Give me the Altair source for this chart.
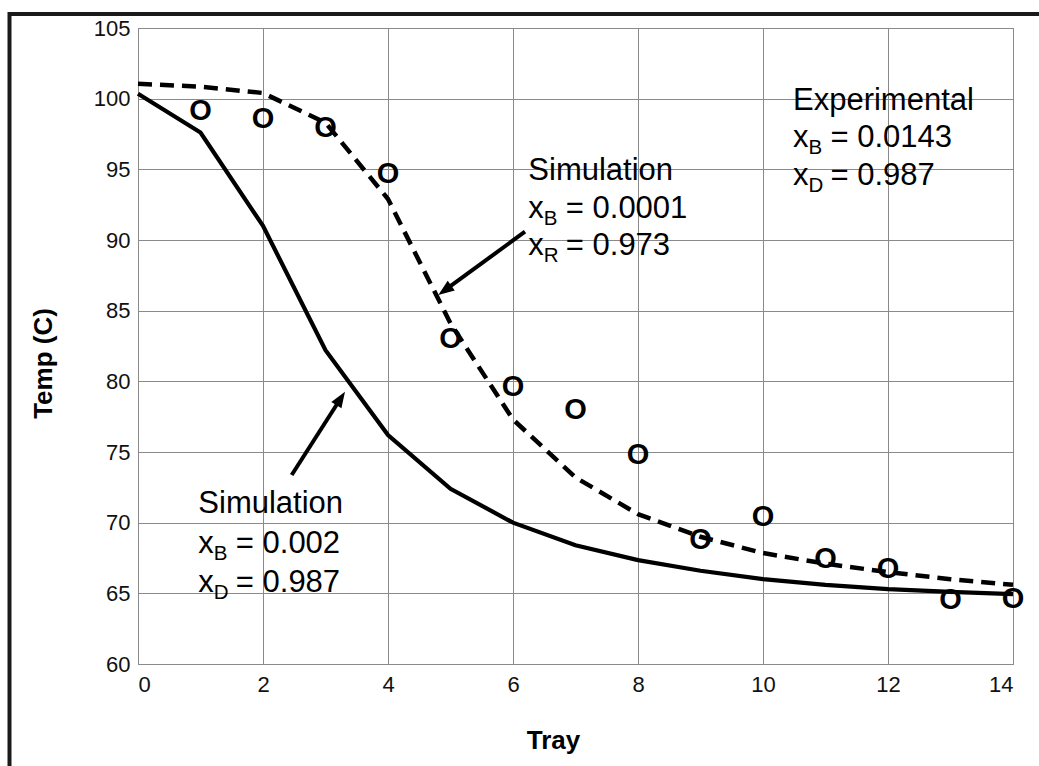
import math
import altair as alt
import pandas as pd

# ---- data -------------------------------------------------------------
trays = list(range(15))
sim_solid = [100.35, 97.6, 91.0, 82.2, 76.2, 72.4, 70.0, 68.4, 67.35, 66.6,
             66.0, 65.6, 65.3, 65.1, 64.95]          # x_B = 0.002, x_D = 0.987
sim_dashed = [101.05, 100.85, 100.4, 98.3, 92.9, 84.1, 77.3, 73.2, 70.6, 69.0,
              67.85, 67.1, 66.5, 66.0, 65.6]         # x_B = 0.0001, x_R = 0.973

exp_trays = list(range(1, 15))
exp_temps = [99.2, 98.7, 98.0, 94.8, 83.1, 79.7, 78.05, 74.9, 68.9, 70.5,
             67.55, 66.8, 64.6, 64.7]

x_ticks = [0, 2, 4, 6, 8, 10, 12, 14]
y_ticks = [60, 65, 70, 75, 80, 85, 90, 95, 100, 105]

# annotation blocks: anchor tray, baselines (temp) of the three lines
note_x = [10.48, 6.245, 0.965]
note_title = ["Experimental", "Simulation", "Simulation"]
note_y1 = [99.2, 94.245, 70.68]
note_y2 = [96.58, 91.53, 67.85]
note_y3 = [93.89, 88.94, 65.11]
note_sub2 = ["B", "B", "B"]
note_sub3 = ["D", "R", "D"]
note_val2 = ["= 0.0143", "= 0.0001", "= 0.002"]
note_val3 = ["= 0.987", "= 0.973", "= 0.987"]

# arrows: start (tray, temp) -> tip (tray, temp)
arrow_x0 = [6.192, 2.459]
arrow_y0 = [90.59, 73.37]
arrow_x1 = [4.805, 3.312]
arrow_y1 = [86.11, 79.27]

# ---- layout -----------------------------------------------------------
W, H = 875, 636
FONT = "Liberation Sans"
px_x = W / 14.0
px_y = H / 45.0

xs = alt.Scale(domain=[0, 14], nice=False, zero=False)
ys = alt.Scale(domain=[60, 105], nice=False, zero=False)

lines = pd.DataFrame({
    "tray": trays + trays,
    "temp": sim_solid + sim_dashed,
    "run": ["solid"] * len(trays) + ["dashed"] * len(trays),
})

base_x = alt.X("tray:Q", scale=xs,
               axis=alt.Axis(values=x_ticks, format="d", title="Tray", titleX=415, titleY=84,
                             titleBaseline="alphabetic", labelPadding=10,
                             titleFontSize=26, titleFontWeight="bold"))
base_y = alt.Y("temp:Q", scale=ys,
               axis=alt.Axis(values=y_ticks, format="d", title="Temp (C)", titleX=-95, titleY=335,
                             titleAngle=-90, titleAlign="center", titleBaseline="middle",
                             labelPadding=8, titleFontSize=26, titleFontWeight="bold"))

solid = alt.Chart(lines[lines.run == "solid"]).mark_line(
    color="black", strokeWidth=4.2).encode(x=base_x, y=base_y)

dashed = alt.Chart(lines[lines.run == "dashed"]).mark_line(
    color="black", strokeWidth=4.5, strokeDash=[14, 8]).encode(x="tray:Q", y="temp:Q")

exp_df = pd.DataFrame({"tray": exp_trays, "temp": exp_temps, "mark": ["O"] * len(exp_trays)})
circles = alt.Chart(exp_df).mark_text(
    font=FONT, fontSize=29, fontWeight="bold", baseline="middle", align="center",
    dy=1.5, color="black").encode(x="tray:Q", y="temp:Q", text="mark:N")

# annotation text
titles_df = pd.DataFrame({"tray": note_x, "temp": note_y1, "t": note_title})
xrow_df = pd.DataFrame({"tray": note_x * 2, "temp": note_y2 + note_y3, "t": ["x"] * 6})
sub_df = pd.DataFrame({"tray": note_x * 2, "temp": note_y2 + note_y3, "t": note_sub2 + note_sub3})
val_df = pd.DataFrame({"tray": note_x * 2, "temp": note_y2 + note_y3, "t": note_val2 + note_val3})

def note_layer(df, size, dx=0, dy=0):
    return alt.Chart(df).mark_text(
        font=FONT, fontSize=size, align="left", baseline="alphabetic",
        color="black", dx=dx, dy=dy).encode(x="tray:Q", y="temp:Q", text="t:N")

notes = [note_layer(titles_df, 31), note_layer(xrow_df, 31),
         note_layer(sub_df, 20.5, dx=15.5, dy=7), note_layer(val_df, 31, dx=37.5)]

# arrows: shaft stops short of the tip, head is a filled triangle
rows = []
for x0, y0, x1, y1 in zip(arrow_x0, arrow_y0, arrow_x1, arrow_y1):
    dxp = (x1 - x0) * px_x
    dyp = -(y1 - y0) * px_y
    L = math.hypot(dxp, dyp)
    back = 9.0 / L
    ang = math.degrees(math.atan2(dxp, -dyp)) % 360
    rows.append({"x0": x0, "y0": y0,
                 "xe": x1 - (x1 - x0) * back, "ye": y1 - (y1 - y0) * back,
                 "x1": x1, "y1": y1, "ang": ang})
arr_df = pd.DataFrame(rows)

shafts = alt.Chart(arr_df).mark_rule(color="black", strokeWidth=4).encode(
    x="x0:Q", y="y0:Q", x2="xe:Q", y2="ye:Q")
heads = alt.Chart(arr_df).mark_point(
    shape="M0,0L0.75,2L-0.75,2Z", size=256, filled=True, color="black", opacity=1
).encode(x="x1:Q", y="y1:Q", angle=alt.Angle("ang:Q", scale=None))

# outer frame (top and left edges)
one = pd.DataFrame({"a": [0]})
frame_top = alt.Chart(one).mark_rule(color="#1a1a1a", strokeWidth=4).encode(
    x=alt.value(-130), x2=alt.value(901), y=alt.value(-14))
frame_left = alt.Chart(one).mark_rule(color="#1a1a1a", strokeWidth=4).encode(
    x=alt.value(-128.5), y=alt.value(-16), y2=alt.value(740))

chart = alt.layer(
    solid, dashed, circles, *notes, shafts, heads, frame_top, frame_left
).properties(
    width=W, height=H,
    padding={"left": 138, "top": 28, "right": 26, "bottom": 102},
    autosize=alt.AutoSizeParams(type="none"),
    background="white",
).configure_view(
    stroke="#8a8a8a", strokeWidth=1
).configure_axis(
    grid=True, gridColor="#8a8a8a", gridWidth=1, gridOpacity=1,
    domain=False, ticks=False,
    labelFont=FONT, labelFontSize=22, labelColor="#111111",
    titleFont=FONT, titleColor="#000000",
)

chart.save("out.html", embed_options={"renderer": "svg", "actions": False})
